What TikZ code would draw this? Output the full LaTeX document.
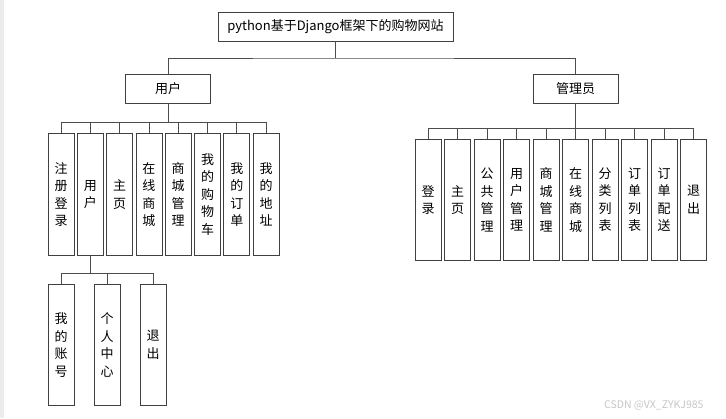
\documentclass[tikz,border=0pt]{standalone}
\usepackage{fontspec}
\setmainfont{Noto Sans CJK SC}
\usetikzlibrary{positioning}

\tikzset{
  box/.style={draw=black!75, line width=0.8pt, fill=white, inner sep=0pt},
  topbox/.style={box, minimum width=235pt, minimum height=29pt},
  rolebox/.style={box, minimum width=85pt, minimum height=29pt},
  leafbox/.style={box, minimum width=26pt, minimum height=122pt, align=center},
  link/.style={draw=black!70, line width=0.8pt}
}

\begin{document}
\begin{tikzpicture}[x=1pt, y=-1pt, font=\fontsize{13}{17.5}\selectfont]
\useasboundingbox (0,0) rectangle (726,418);
\fill[gray!15] (0,0) rectangle (3.5,418);
% root and roles
\node[topbox] (site) at (335.5,26.5) {python基于Django框架下的购物网站};
\node[rolebox] (user) at (168,88.5) {用户};
\node[rolebox] (admin) at (575.5,88.5) {管理员};
\coordinate (bus0) at (335.5,58);
\draw[link] (site.south) -- (bus0);
\draw[link] (user.north) |- (bus0) -| (admin.north);
% user functions
\foreach \t [count=\i from 0] in {{注\\册\\登\\录}, {用\\户}, {主\\页}, {在\\线\\商\\城},
    {商\\城\\管\\理}, {我\\的\\购\\物\\车}, {我\\的\\订\\单}, {我\\的\\地\\址}}
  \node[leafbox, anchor=north] (u\i) at (61+29.3*\i,133) {\t};
\coordinate (bus1) at (168,122);
\draw[link] (user.south) -- (bus1);
\foreach \i in {0,...,7}
  \draw[link] (u\i.north) |- (bus1);
% user center
\foreach \t [count=\i from 0] in {{我\\的\\账\\号}, {个\\人\\中\\心}, {退\\出}}
  \node[leafbox, minimum height=121pt, anchor=north] (s\i) at (61+46*\i,284) {\t};
\coordinate (bus2) at (u1.south |- 0,273);
\draw[link] (u1.south) -- (bus2);
\foreach \i in {0,...,2}
  \draw[link] (s\i.north) |- (bus2);
% admin functions
\foreach \t [count=\i from 0] in {{登\\录}, {主\\页}, {公\\共\\管\\理}, {用\\户\\管\\理},
    {商\\城\\管\\理}, {在\\线\\商\\城}, {分\\类\\列\\表}, {订\\单\\列\\表},
    {订\\单\\配\\送}, {退\\出}}
  \node[leafbox, minimum height=121pt, anchor=north] (a\i) at (428+29.5*\i,139) {\t};
\coordinate (bus3) at (575.5,128);
\draw[link] (admin.south) -- (bus3);
\foreach \i in {0,...,9}
  \draw[link] (a\i.north) |- (bus3);
% watermark
\node[text=gray!45, font=\fontsize{10.5}{12}\selectfont, anchor=east] (mark) at (707,405) {CSDN @VX\_ZYKJ985};
\end{tikzpicture}
\end{document}
